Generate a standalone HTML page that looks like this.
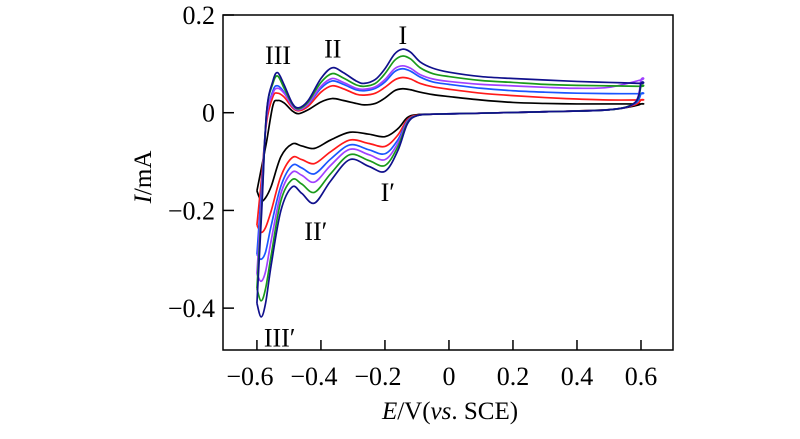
<!DOCTYPE html>
<html><head><meta charset="utf-8"><style>
html,body{margin:0;padding:0;background:#fff;}
svg text{font-family:"Liberation Serif",serif;fill:#000;}
</style></head><body>
<svg id="chart" width="800" height="434" viewBox="0 0 800 434" xmlns="http://www.w3.org/2000/svg">
<g id="axes"></g>
<g id="series"></g>
<g id="annot"></g>
</svg>
<script>
const xTicks = [-0.6, -0.4, -0.2, 0, 0.2, 0.4, 0.6];
const xTickLabels = ["\u22120.6", "\u22120.4", "\u22120.2", "0", "0.2", "0.4", "0.6"];
const yTicks = [0.2, 0, -0.2, -0.4];
const yTickLabels = ["0.2", "0", "\u22120.2", "\u22120.4"];
const seriesNames = ["black", "red", "blue", "purple", "green", "navy"];
const seriesColors = ["#000000", "#ff1a1a", "#1a55ff", "#a040ff", "#1a9a1a", "#10108c"];
const upperE = [-0.6, -0.585, -0.57, -0.55, -0.535, -0.515, -0.49, -0.47, -0.44, -0.4, -0.365, -0.33, -0.29, -0.265, -0.23, -0.2, -0.17, -0.145, -0.12, -0.09, -0.05, 0, 0.1, 0.2, 0.3, 0.4, 0.5, 0.6];
const upperBlack = [-0.16, -0.11, -0.06, 0.015, 0.025, 0.02, 0.004, -0.002, 0.006, 0.022, 0.029, 0.025, 0.019, 0.016, 0.019, 0.03, 0.045, 0.049, 0.047, 0.042, 0.037, 0.033, 0.026, 0.021, 0.019, 0.018, 0.018, 0.018];
const upperRed = [-0.23, -0.13, -0.02, 0.033, 0.04, 0.032, 0.011, 0.004, 0.013, 0.042, 0.055, 0.049, 0.038, 0.036, 0.04, 0.052, 0.067, 0.072, 0.069, 0.06, 0.053, 0.048, 0.04, 0.035, 0.031, 0.028, 0.026, 0.026];
const upperBlue = [-0.29, -0.15, -0.01, 0.045, 0.055, 0.042, 0.014, 0.006, 0.017, 0.05, 0.065, 0.058, 0.047, 0.045, 0.05, 0.063, 0.084, 0.09, 0.085, 0.073, 0.063, 0.058, 0.05, 0.045, 0.042, 0.04, 0.039, 0.039];
const upperPurple = [-0.33, -0.17, -0.01, 0.04, 0.05, 0.04, 0.014, 0.006, 0.018, 0.054, 0.07, 0.062, 0.05, 0.048, 0.053, 0.068, 0.09, 0.096, 0.091, 0.078, 0.069, 0.064, 0.058, 0.055, 0.052, 0.05, 0.052, 0.067];
const upperGreen = [-0.36, -0.19, 0.0, 0.06, 0.075, 0.05, 0.018, 0.008, 0.022, 0.062, 0.08, 0.071, 0.057, 0.054, 0.06, 0.08, 0.107, 0.116, 0.11, 0.092, 0.08, 0.074, 0.066, 0.062, 0.058, 0.056, 0.055, 0.054];
const upperNavy = [-0.39, -0.2, 0.0, 0.065, 0.082, 0.057, 0.02, 0.01, 0.025, 0.07, 0.092, 0.082, 0.065, 0.06, 0.068, 0.09, 0.12, 0.13, 0.124, 0.104, 0.091, 0.083, 0.074, 0.07, 0.067, 0.064, 0.062, 0.06];
const lowerE = [0.6, 0.58, 0.5, 0.3, 0.1, -0.05, -0.1, -0.13, -0.16, -0.2, -0.25, -0.31, -0.37, -0.42, -0.46, -0.49, -0.525, -0.555, -0.573, -0.587, -0.6];
const lowerBlack = [0.018, 0.014, 0.006, 0.002, -0.001, -0.003, -0.004, -0.01, -0.033, -0.049, -0.044, -0.04, -0.056, -0.073, -0.068, -0.064, -0.09, -0.15, -0.174, -0.18, -0.16];
const lowerRed = [0.026, 0.016, 0.006, 0.002, -0.001, -0.003, -0.005, -0.014, -0.046, -0.069, -0.063, -0.056, -0.08, -0.104, -0.096, -0.092, -0.13, -0.2, -0.235, -0.245, -0.23];
const lowerBlue = [0.039, 0.018, 0.006, 0.002, -0.001, -0.003, -0.006, -0.017, -0.056, -0.084, -0.076, -0.066, -0.095, -0.125, -0.113, -0.108, -0.15, -0.23, -0.285, -0.3, -0.29];
const lowerPurple = [0.067, 0.02, 0.006, 0.002, -0.001, -0.003, -0.006, -0.019, -0.063, -0.096, -0.086, -0.075, -0.108, -0.142, -0.128, -0.122, -0.165, -0.26, -0.325, -0.345, -0.33];
const lowerGreen = [0.054, 0.02, 0.006, 0.002, -0.001, -0.003, -0.006, -0.021, -0.07, -0.108, -0.098, -0.086, -0.125, -0.163, -0.146, -0.137, -0.18, -0.29, -0.36, -0.385, -0.36];
const lowerNavy = [0.06, 0.02, 0.006, 0.002, -0.001, -0.003, -0.006, -0.023, -0.078, -0.12, -0.11, -0.096, -0.14, -0.185, -0.165, -0.152, -0.2, -0.31, -0.39, -0.418, -0.39];

const upperAll = [upperBlack, upperRed, upperBlue, upperPurple, upperGreen, upperNavy];
const lowerAll = [lowerBlack, lowerRed, lowerBlue, lowerPurple, lowerGreen, lowerNavy];

const annLabels = ["I", "II", "III", "I\u2032", "II\u2032", "III\u2032"];
const annE = [-0.144, -0.363, -0.534, -0.191, -0.416, -0.529];
const annI = [0.141, 0.113, 0.1, -0.181, -0.261, -0.479];

const L = 223, R = 673, T = 15, B = 350;
const xMin = -0.706, xMax = 0.7, yMin = -0.4857, yMax = 0.2;
function xs(v){ return L + (v - xMin) / (xMax - xMin) * (R - L); }
function ys(v){ return B - (v - yMin) / (yMax - yMin) * (B - T); }
const NS = "http://www.w3.org/2000/svg";
function mk(tag, attrs, parent){ const e = document.createElementNS(NS, tag); for (const k in attrs) e.setAttribute(k, attrs[k]); parent.appendChild(e); return e; }

const axes = document.getElementById('axes');
const frame = mk('rect', {x:L, y:T, width:R-L, height:B-T, fill:'none', stroke:'#000', 'stroke-width':1.5}, axes);


xTicks.forEach((v, i) => {
  const t = mk('line', {x1:xs(v), x2:xs(v), y1:B, y2:B-10, stroke:'#000', 'stroke-width':1.5}, axes);
  
  
  const lb = mk('text', {x:xs(v) - (v < 0 ? 7 : 0), y:385, 'font-size':26, 'text-anchor':'middle'}, axes);
  lb.textContent = xTickLabels[i];
  
  
});
yTicks.forEach((v, i) => {
  const t = mk('line', {x1:L, x2:L+11, y1:ys(v), y2:ys(v), stroke:'#000', 'stroke-width':1.5}, axes);
  
  
  const lb = mk('text', {x:215, y:ys(v)+9, 'font-size':26, 'text-anchor':'end'}, axes);
  lb.textContent = yTickLabels[i];
  
  
});
const xt = mk('text', {x:450, y:419, 'font-size':25, 'text-anchor':'middle'}, axes);
xt.innerHTML = '<tspan font-style="italic">E</tspan>/V(<tspan font-style="italic">vs</tspan>. SCE)';


const yt = mk('text', {x:0, y:0, 'font-size':25, 'text-anchor':'middle', transform:'translate(151,177) rotate(-90)'}, axes);
yt.innerHTML = '<tspan font-style="italic">I</tspan>/mA';



function smoothPath(px, py){
  let d = 'M' + px[0].toFixed(2) + ',' + py[0].toFixed(2);
  for (let i = 0; i < px.length - 1; i++){
    const i0 = Math.max(0, i-1), i3 = Math.min(px.length-1, i+2);
    const c1x = px[i] + (px[i+1]-px[i0])/6, c1y = py[i] + (py[i+1]-py[i0])/6;
    const c2x = px[i+1] - (px[i3]-px[i])/6, c2y = py[i+1] - (py[i3]-py[i])/6;
    d += ' C' + c1x.toFixed(2)+','+c1y.toFixed(2)+' '+c2x.toFixed(2)+','+c2y.toFixed(2)+' '+px[i+1].toFixed(2)+','+py[i+1].toFixed(2);
  }
  return d;
}
const series = document.getElementById('series');
seriesNames.forEach((nm, k) => {
  const E = upperE.concat(lowerE);
  const I = upperAll[k].concat(lowerAll[k]);
  const p = mk('path', {d:smoothPath(E.map(xs), I.map(ys)), fill:'none', stroke:seriesColors[k], 'stroke-width':1.7, 'stroke-linejoin':'round'}, series);
  
  
});

const annot = document.getElementById('annot');
annLabels.forEach((s, i) => {
  const t = mk('text', {x:xs(annE[i]), y:ys(annI[i]), 'font-size':26, 'text-anchor':'middle'}, annot);
  t.textContent = s;
  
  
});
</script>
</body></html>
